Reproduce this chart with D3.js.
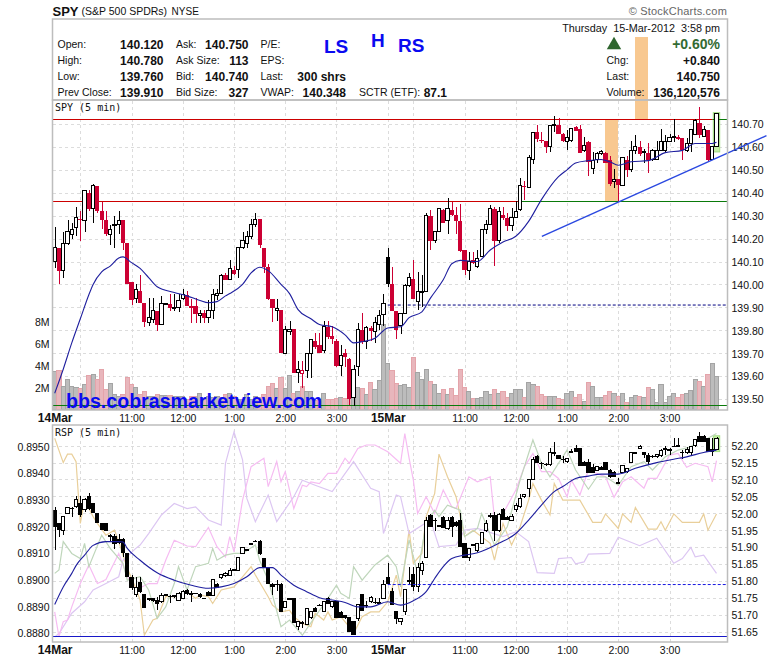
<!DOCTYPE html>
<html>
<head>
<meta charset="utf-8">
<script src="https://cdnjs.cloudflare.com/ajax/libs/d3/7.8.5/d3.min.js"></script>
<style>
  html, body { margin: 0; padding: 0; background: #fff; }
  svg { display: block; font-family: "Liberation Sans", Arial, sans-serif; }
  .grid .tick line { stroke: #dcdcdc; stroke-dasharray: 3 3; shape-rendering: crispEdges; }
  .grid .domain { display: none; }
  .grid text { fill: #111; font-size: 10.5px; }
</style>
</head>
<body>
<div id="chart"></div>
<script>
// [open, high, low, close] per 5 min bar, 14 Mar 9:30 to 15 Mar 3:55
const spyBars = [
  [140.10,140.25,140.07,140.16],[140.16,140.16,140.00,140.06],[140.06,140.23,140.03,140.18],[140.18,140.28,140.17,140.23],
  [140.22,140.27,140.20,140.24],[140.25,140.34,140.21,140.29],[140.285,140.32,140.19,140.28],[140.28,140.41,140.23,140.41],
  [140.40,140.41,140.32,140.33],[140.33,140.44,140.27,140.43],[140.43,140.43,140.31,140.32],[140.32,140.36,140.24,140.28],
  [140.28,140.32,140.21,140.22],[140.22,140.26,140.17,140.24],[140.255,140.30,140.16,140.26],[140.26,140.32,140.22,140.28],
  [140.28,140.28,140.15,140.18],[140.18,140.18,140.00,140.00],[140.01,140.01,139.91,139.93],[139.94,140.00,139.92,139.98],
  [139.97,140.04,139.92,139.92],[139.92,139.92,139.815,139.835],[139.835,139.94,139.82,139.855],[139.845,139.94,139.83,139.885],
  [139.885,139.885,139.795,139.825],[139.825,139.95,139.825,139.915],[139.915,139.92,139.91,139.915],[139.915,139.96,139.885,139.895],
  [139.895,139.96,139.885,139.90],[139.90,139.96,139.88,139.93],[139.94,139.98,139.93,139.955],[139.955,139.97,139.905,139.905],
  [139.905,139.935,139.83,139.895],[139.905,139.94,139.83,139.87],[139.865,139.89,139.83,139.875],[139.875,139.89,139.83,139.855],
  [139.855,139.93,139.83,139.885],[139.885,139.98,139.85,139.955],[139.95,139.98,139.93,139.96],[139.96,140.045,139.96,140.04],
  [140.04,140.05,140.02,140.02],[140.02,140.105,140.02,140.07],[140.065,140.08,140.04,140.045],[140.065,140.16,140.03,140.16],
  [140.16,140.23,140.155,140.19],[140.18,140.235,140.16,140.21],[140.21,140.285,140.20,140.26],[140.26,140.31,140.25,140.285],
  [140.285,140.285,140.16,140.17],[140.16,140.16,140.05,140.075],[140.075,140.09,139.93,139.935],[139.935,139.935,139.835,139.895],
  [139.885,139.935,139.84,139.895],[139.89,139.89,139.70,139.70],[139.70,139.82,139.70,139.805],[139.795,139.84,139.78,139.805],
  [139.805,139.805,139.615,139.615],[139.615,139.665,139.57,139.63],[139.61,139.665,139.55,139.625],[139.625,139.70,139.59,139.70],
  [139.70,139.76,139.59,139.76],[139.755,139.79,139.72,139.725],[139.735,139.79,139.70,139.70],[139.71,139.84,139.70,139.815],
  [139.815,139.84,139.76,139.77],[139.775,139.82,139.74,139.76],[139.755,139.76,139.64,139.645],[139.645,139.735,139.60,139.69],
  [139.70,139.72,139.64,139.685],[139.675,139.68,139.475,139.50],[139.505,139.65,139.47,139.63],[139.64,139.83,139.60,139.805],
  [139.80,139.875,139.74,139.75],[139.75,139.82,139.72,139.81],[139.81,139.82,139.755,139.795],[139.795,139.86,139.745,139.835],
  [139.825,139.89,139.80,139.865],[139.87,139.96,139.82,139.915],[140.12,140.16,139.99,140.00],[140.00,140.075,139.885,139.885],
  [139.885,139.885,139.76,139.80],[139.82,139.875,139.785,139.875],[139.875,140.00,139.875,139.995],[139.995,140.05,139.99,140.03],
  [140.025,140.105,139.935,139.935],[139.925,140.055,139.89,139.97],[139.965,140.04,139.90,139.97],[139.97,140.31,139.97,140.30],
  [140.30,140.325,140.15,140.19],[140.19,140.23,140.18,140.23],[140.23,140.33,140.23,140.33],[140.325,140.33,140.27,140.27],
  [140.28,140.375,140.22,140.33],[140.325,140.36,140.30,140.305],[140.305,140.34,140.22,140.275],[140.275,140.35,140.14,140.145],
  [140.15,140.15,140.04,140.065],[140.06,140.14,140.02,140.10],[140.105,140.14,140.09,140.095],[140.08,140.15,140.07,140.115],
  [140.12,140.24,140.12,140.24],[140.24,140.28,140.22,140.26],[140.26,140.345,140.26,140.33],[140.33,140.34,140.08,140.19],
  [140.19,140.34,140.18,140.32],[140.305,140.34,140.28,140.29],[140.29,140.31,140.235,140.255],[140.255,140.335,140.235,140.29],
  [140.29,140.365,140.29,140.32],[140.325,140.465,140.32,140.43],[140.43,140.45,140.37,140.425],[140.425,140.565,140.425,140.555],
  [140.545,140.665,140.525,140.665],[140.665,140.695,140.62,140.635],[140.63,140.665,140.615,140.625],[140.625,140.625,140.575,140.60],
  [140.60,140.695,140.58,140.695],[140.695,140.735,140.665,140.70],[140.695,140.725,140.655,140.655],[140.655,140.66,140.62,140.625],
  [140.625,140.675,140.585,140.64],[140.63,140.68,140.62,140.68],[140.685,140.69,140.67,140.67],[140.68,140.695,140.575,140.575],
  [140.585,140.645,140.58,140.605],[140.62,140.625,140.475,140.535],[140.505,140.58,140.48,140.54],[140.545,140.58,140.53,140.57],
  [140.57,140.585,140.565,140.58],[140.575,140.58,140.53,140.53],[140.545,140.56,140.43,140.44],[140.45,140.505,140.42,140.46],
  [140.46,140.46,140.36,140.435],[140.43,140.555,140.43,140.555],[140.545,140.56,140.47,140.50],[140.50,140.625,140.49,140.585],
  [140.585,140.65,140.57,140.60],[140.60,140.625,140.56,140.57],[140.575,140.59,140.53,140.58],[140.575,140.615,140.485,140.545],
  [140.545,140.59,140.54,140.585],[140.545,140.625,140.545,140.585],[140.585,140.68,140.585,140.625],[140.585,140.65,140.58,140.625],
  [140.625,140.655,140.62,140.64],[140.64,140.72,140.62,140.645],[140.645,140.65,140.63,140.635],[140.64,140.64,140.545,140.585],
  [140.585,140.64,140.58,140.615],[140.615,140.68,140.58,140.675],[140.655,140.72,140.655,140.715],[140.705,140.775,140.64,140.65],
  [140.645,140.69,140.645,140.675],[140.675,140.675,140.54,140.545],[140.545,140.60,140.545,140.60],[140.60,140.75,140.60,140.745]
];

const rspBars = [
  [52.01,52.02,51.89,51.96],[51.97,51.97,51.93,51.95],[51.95,51.99,51.935,51.99],[52.00,52.02,52.00,52.017],
  [52.017,52.02,51.99,52.015],[52.02,52.05,52.015,52.04],[52.03,52.05,51.99,51.995],[52.01,52.045,52.005,52.04],
  [52.05,52.06,52.01,52.012],[52.03,52.03,52.00,52.00],[52.00,52.00,51.97,51.97],[51.97,51.97,51.95,51.95],
  [51.97,51.97,51.948,51.948],[51.935,51.94,51.915,51.93],[51.932,51.94,51.895,51.909],[51.923,51.94,51.91,51.913],
  [51.923,51.926,51.87,51.881],[51.881,51.881,51.81,51.81],[51.81,51.817,51.773,51.778],[51.761,51.812,51.753,51.78],
  [51.797,51.812,51.765,51.768],[51.761,51.761,51.72,51.72],[51.748,51.75,51.74,51.743],[51.748,51.75,51.738,51.74],
  [51.743,51.753,51.713,51.73],[51.738,51.763,51.733,51.758],[51.758,51.76,51.757,51.759],[51.755,51.758,51.733,51.753],
  [51.755,51.757,51.75,51.756],[51.743,51.768,51.743,51.763],[51.748,51.773,51.745,51.768],[51.773,51.775,51.758,51.76],
  [51.763,51.771,51.736,51.758],[51.763,51.765,51.76,51.762],[51.761,51.763,51.75,51.751],[51.749,51.75,51.746,51.747],
  [51.768,51.77,51.755,51.756],[51.758,51.804,51.755,51.804],[51.792,51.793,51.78,51.78],[51.809,51.82,51.805,51.819],
  [51.815,51.825,51.81,51.822],[51.817,51.839,51.815,51.832],[51.832,51.834,51.83,51.833],[51.832,51.869,51.83,51.869],
  [51.881,51.90,51.88,51.899],[51.893,51.895,51.892,51.894],[51.91,51.912,51.909,51.911],[51.919,51.92,51.918,51.918],
  [51.919,51.92,51.875,51.878],[51.869,51.869,51.84,51.842],[51.842,51.842,51.79,51.79],[51.792,51.793,51.758,51.782],
  [51.79,51.802,51.771,51.788],[51.792,51.793,51.708,51.708],[51.72,51.738,51.72,51.738],[51.748,51.749,51.747,51.748],
  [51.748,51.748,51.674,51.674],[51.664,51.679,51.655,51.679],[51.679,51.68,51.659,51.672],[51.672,51.718,51.668,51.718],
  [51.69,51.712,51.688,51.708],[51.721,51.722,51.708,51.708],[51.729,51.73,51.728,51.728],[51.71,51.74,51.71,51.738],
  [51.748,51.753,51.73,51.731],[51.723,51.74,51.72,51.738],[51.74,51.74,51.689,51.689],[51.708,51.71,51.689,51.689],
  [51.70,51.70,51.688,51.689],[51.692,51.692,51.649,51.649],[51.681,51.681,51.64,51.64],[51.689,51.731,51.68,51.731],
  [51.76,51.76,51.711,51.711],[51.728,51.74,51.72,51.727],[51.738,51.755,51.735,51.751],[51.738,51.75,51.73,51.737],
  [51.735,51.75,51.73,51.736],[51.748,51.802,51.745,51.79],[51.812,51.852,51.79,51.79],[51.77,51.78,51.728,51.728],
  [51.71,51.71,51.672,51.687],[51.679,51.69,51.67,51.689],[51.71,51.773,51.70,51.773],[51.798,51.842,51.79,51.80],
  [51.82,51.842,51.77,51.782],[51.782,51.852,51.768,51.84],[51.83,51.86,51.817,51.852],[51.869,51.99,51.869,51.98],
  [51.995,51.997,51.96,51.96],[51.98,51.985,51.948,51.978],[51.965,51.966,51.96,51.96],[51.99,51.992,51.955,51.955],
  [51.955,51.99,51.95,51.98],[51.99,51.992,51.93,51.96],[51.975,51.978,51.958,51.962],[51.98,52.00,51.90,51.901],
  [51.911,51.911,51.868,51.868],[51.869,51.896,51.86,51.896],[51.905,51.908,51.904,51.907],[51.889,51.911,51.885,51.911],
  [51.911,51.943,51.908,51.943],[51.948,51.98,51.945,51.97],[51.993,52.00,51.985,51.994],[51.995,52.005,51.919,51.948],
  [51.948,52.00,51.945,51.995],[52.014,52.016,51.98,51.98],[51.99,51.992,51.98,51.98],[51.98,51.998,51.978,51.99],
  [52.01,52.03,52.005,52.022],[52.019,52.057,52.015,52.044],[52.049,52.058,52.045,52.057],[52.072,52.10,52.049,52.10],
  [52.10,52.167,52.10,52.16],[52.17,52.172,52.15,52.15],[52.15,52.151,52.131,52.146],[52.146,52.148,52.14,52.145],
  [52.143,52.192,52.14,52.18],[52.179,52.21,52.17,52.18],[52.172,52.173,52.16,52.16],[52.16,52.17,52.15,52.158],
  [52.153,52.165,52.15,52.162],[52.182,52.19,52.178,52.183],[52.192,52.202,52.18,52.18],[52.192,52.192,52.141,52.141],
  [52.153,52.155,52.141,52.141],[52.151,52.16,52.12,52.12],[52.138,52.145,52.12,52.12],[52.128,52.14,52.125,52.138],
  [52.138,52.14,52.128,52.128],[52.151,52.152,52.128,52.128],[52.128,52.13,52.105,52.108],[52.123,52.125,52.108,52.108],
  [52.09,52.103,52.088,52.091],[52.12,52.141,52.12,52.141],[52.123,52.135,52.12,52.133],[52.15,52.18,52.15,52.179],
  [52.18,52.182,52.174,52.174],[52.192,52.202,52.19,52.199],[52.18,52.182,52.165,52.172],[52.172,52.177,52.143,52.153],
  [52.169,52.172,52.165,52.168],[52.169,52.175,52.165,52.173],[52.17,52.19,52.168,52.185],[52.191,52.20,52.172,52.192],
  [52.187,52.192,52.172,52.188],[52.20,52.222,52.195,52.198],[52.202,52.222,52.195,52.195],[52.18,52.187,52.16,52.179],
  [52.18,52.195,52.175,52.189],[52.18,52.20,52.17,52.197],[52.20,52.22,52.195,52.217],[52.23,52.24,52.21,52.212],
  [52.23,52.232,52.21,52.212],[52.222,52.224,52.18,52.182],[52.189,52.222,52.17,52.182],[52.19,52.225,52.19,52.222]
];

// millions of shares
const spyVolume = [
  3.5,3.6,2.1,2.8,2.1,2.0,1.9,2.3,3.1,3.2,2.8,3.7,1.8,2.4,1.4,1.2,1.4,2.9,2.3,2.0,
  1.4,1.65,1.15,1.15,1.4,1.3,1.3,1.3,1.2,1.2,1.2,0.9,1.2,1.2,1.5,1.0,1.2,1.1,1.2,1.1,
  1.4,1.5,1.2,0.9,0.9,1.4,0.9,1.2,1.1,1.4,2.1,2.4,1.9,2.9,1.9,3.1,1.5,1.7,2.1,1.7,
  1.7,0.8,0.9,1.5,0.9,0.9,1.0,1.1,1.0,1.1,1.9,2.0,1.9,1.4,2.5,1.8,2.7,7.8,4.2,3.6,
  2.35,2.25,2.3,2.0,4.8,3.4,2.75,3.7,2.6,2.3,1.5,1.8,1.4,1.9,1.3,3.7,2.0,1.7,1.0,1.0,
  1.1,1.65,1.4,1.8,1.5,1.65,1.1,1.5,1.8,1.8,1.1,2.45,2.3,2.1,1.4,1.15,1.15,1.15,1.0,0.9,
  1.5,1.65,1.1,1.4,0.7,2.45,2.1,1.1,1.1,1.3,1.65,1.45,1.2,1.5,0.6,1.1,1.3,1.15,1.1,2.0,
  1.8,0.6,2.3,0.6,1.15,1.45,1.1,1.4,1.5,1.75,2.8,2.55,2.1,3.2,4.2,3.0
];

// [bar, value]
const spyMa = [
  [0,139.525],[2,139.63],[4,139.745],[6,139.85],[8,139.955],[9,140.00],[11,140.055],[13,140.08],[15,140.115],[16,140.12],
  [18,140.095],[20,140.07],[22,140.03],[24,139.99],[28,139.965],[31,139.95],[34,139.93],[36,139.92],[38,139.925],[40,139.95],
  [41,139.96],[44,140.00],[46,140.05],[48,140.075],[50,140.06],[53,140.00],[55,139.96],[57,139.89],[60,139.85],[62,139.825],
  [65,139.815],[68,139.78],[70,139.745],[72,139.75],[75,139.765],[78,139.81],[81,139.815],[83,139.855],[86,139.88],[88,139.94],
  [91,140.02],[93,140.09],[95,140.105],[99,140.10],[102,140.15],[105,140.185],[108,140.21],[111,140.275],[114,140.37],[118,140.47],
  [120,140.50],[122,140.53],[125,140.54],[128,140.545],[130,140.535],[132,140.52],[135,140.535],[139,140.54],[143,140.575],[147,140.585],
  [150,140.615],[154,140.615],[155,140.62]
];

const rspMa = [
  [0,51.73],[2,51.782],[4,51.822],[5,51.845],[7,51.876],[9,51.905],[12,51.916],[15,51.916],[16,51.915],[17,51.896],
  [20,51.861],[24,51.824],[28,51.802],[32,51.787],[36,51.778],[39,51.782],[42,51.792],[45,51.812],[48,51.839],[51,51.839],
  [53,51.817],[56,51.787],[59,51.768],[62,51.75],[65,51.743],[68,51.736],[71,51.723],[74,51.723],[78,51.738],[81,51.728],
  [84,51.741],[87,51.768],[89,51.807],[91,51.842],[93,51.866],[96,51.876],[99,51.883],[104,51.911],[108,51.94],[111,51.98],
  [114,52.024],[117,52.064],[119,52.079],[122,52.103],[125,52.11],[128,52.116],[132,52.116],[136,52.133],[141,52.15],[145,52.16],
  [148,52.167],[152,52.18],[155,52.187]
];

const tanLine = [
  [0,52.222],[2,52.15],[3,52.175],[4,52.175],[5,52.153],[6,51.97],[7,52.039],[9,51.99],[10,51.97],[12,51.935],[14,51.95],[15,51.916],
  [17,51.837],[19,51.778],[20,51.743],[21,51.639],[23,51.684],[24,51.689],[26,51.753],[29,51.753],[31,51.768],[33,51.748],[34,51.758],
  [36,51.753],[37,51.733],[39,51.773],[42,51.782],[44,51.812],[46,51.842],[47,51.817],[50,51.753],[51,51.728],[53,51.708],[55,51.713],
  [56,51.694],[58,51.674],[60,51.664],[61,51.704],[63,51.684],[64,51.708],[65,51.684],[67,51.694],[69,51.664],[70,51.644],[72,51.694],
  [74,51.708],[76,51.708],[78,51.738],[80,51.817],[81,51.753],[83,51.95],[84,51.852],[86,51.881],[87,51.99],[89,52.059],[90,52.175],
  [92,52.108],[94,52.049],[96,51.931],[98,51.95],[102,51.911],[103,51.861],[105,51.97],[107,51.906],[109,51.96],[111,52.039],[112,52.088],
  [114,52.039],[116,51.995],[117,52.088],[119,52.039],[123,52.039],[126,51.973],[128,51.973],[129,51.998],[132,51.955],[133,51.998],
  [135,51.973],[136,52.017],[139,51.953],[141,51.953],[142,51.975],[143,51.95],[145,51.998],[147,51.973],[151,51.973],[152,51.998],
  [153,51.95],[155,51.998]
];

const pinkLine = [
  [0,51.708],[1,51.634],[2,51.679],[3,51.684],[4,51.723],[6,51.792],[8,51.847],[10,51.792],[12,51.804],[15,51.881],[17,51.812],[19,51.773],
  [22,51.792],[24,51.792],[26,51.861],[28,51.92],[31,51.903],[33,51.901],[36,51.958],[38,51.901],[40,51.871],[41,51.931],[42,51.886],
  [44,52.039],[46,52.138],[49,52.163],[50,52.079],[52,52.153],[53,52.093],[54,52.123],[56,52.014],[58,52.083],[59,52.079],[60,52.093],
  [62,52.088],[64,52.118],[66,52.118],[68,52.163],[69,52.148],[71,52.192],[73,52.202],[75,52.202],[78,52.182],[81,52.148],[82,52.236],
  [83,52.163],[84,52.098],[85,51.999],[87,52.049],[89,51.999],[91,52.069],[93,52.019],[94,52.014],[97,52.108],[99,52.093],[102,52.108],
  [103,51.985],[105,51.999],[108,52.069],[110,52.138],[112,52.177],[114,52.123],[116,52.123],[118,52.103],[120,52.049],[121,52.098],
  [123,52.054],[125,52.128],[128,52.113],[129,52.108],[131,52.047],[133,52.093],[135,52.108],[138,52.074],[139,52.103],[141,52.103],
  [144,52.172],[146,52.177],[148,52.136],[150,52.148],[153,52.138],[154,52.093],[155,52.156]
];

const lavenderLine = [
  [0,51.634],[1,51.644],[4,51.704],[7,51.738],[9,51.773],[12,51.792],[15,51.812],[16,51.861],[19,51.896],[20,51.906],[22,51.94],[25,51.995],
  [28,52.029],[31,52.014],[33,52.019],[36,51.98],[39,51.965],[40,52.148],[42,52.241],[44,52.158],[45,52.044],[47,51.975],[50,52.054],
  [52,51.975],[56,52.049],[58,52.098],[61,52.083],[65,52.064],[70,52.153],[74,52.074],[76,52.064],[77,51.94],[80,52.054],[81,52.049],
  [83,51.94],[88,51.98],[90,51.901],[94,51.906],[96,51.95],[99,51.955],[105,51.931],[108,51.945],[111,51.916],[113,51.824],[117,51.822],
  [118,51.866],[121,51.869],[122,51.85],[124,51.856],[125,51.879],[130,51.881],[132,51.929],[137,51.904],[141,51.926],[145,51.852],
  [147,51.866],[149,51.899],[150,51.871],[152,51.876],[155,51.822]
];

const sageLine = [
  [0,51.822],[1,51.832],[2,51.916],[4,51.881],[6,51.866],[7,51.911],[8,51.842],[11,51.935],[13,51.896],[16,51.852],[17,51.802],[20,51.812],
  [22,51.773],[24,51.689],[26,51.723],[28,51.792],[29,51.842],[31,51.773],[33,51.842],[36,51.852],[37,51.896],[38,51.861],[40,51.876],
  [42,51.881],[44,51.881],[47,51.906],[48,51.861],[50,51.802],[51,51.758],[53,51.664],[55,51.684],[58,51.639],[61,51.694],[64,51.748],
  [66,51.787],[67,51.763],[69,51.748],[70,51.842],[72,51.802],[75,51.847],[78,51.876],[80,51.842],[81,51.782],[83,51.921],[85,51.822],
  [87,51.97],[89,52.009],[90,51.99],[92,52.024],[95,52.009],[96,51.931],[99,51.955],[100,51.999],[103,51.906],[106,51.96],[109,52.098],
  [112,52.217],[114,52.148],[116,52.108],[118,52.148],[120,52.187],[122,52.128],[125,52.071],[127,52.108],[129,52.108],[132,52.083],
  [135,52.138],[138,52.153],[140,52.128],[143,52.167],[146,52.187],[149,52.197],[151,52.217],[153,52.222],[155,52.236]
];

const priceTicks = [140.7,140.6,140.5,140.4,140.3,140.2,140.1,140.0,139.9,139.8,139.7,139.6,139.5];
const rspTicks = [52.2,52.15,52.1,52.05,52.0,51.95,51.9,51.85,51.8,51.75,51.7,51.65];
const ratioTicks = [0.895,0.894,0.893,0.892,0.891,0.89,0.889,0.888];
const volumeTicks = [2,4,6,8];
const gridBars = [6,18,30,42,54,66,78,84,96,108,120,132,144];
const timeBars = [0,18,30,42,54,66,78,96,108,120,132,144];
const timeLabels = ["14Mar","11:00","12:00","1:00","2:00","3:00","15Mar","11:00","12:00","1:00","2:00","3:00"];

// level, colour switches from red to green at switchBar
const spyLevels = [
  { value: 140.72, switchBar: 154 },
  { value: 140.363, switchBar: 109 },
  { value: 139.472, switchBar: 0 },
];
const prevClose = 139.91;
const rspPrevClose = 51.789;
const rspLow = 51.637;
const trendBars = [114.1, 166.7];
const trendValues = [140.21, 140.649];

const quoteCol1 = ["Open:", "High:", "Low:", "Prev Close:"];
const quoteVal1 = ["140.120", "140.780", "139.760", "139.910"];
const quoteCol2 = ["Ask:", "Ask Size:", "Bid:", "Bid Size:"];
const quoteVal2 = ["140.750", "113", "140.740", "327"];
const quoteCol3 = ["P/E:", "EPS:", "Last:", "VWAP:"];
const quoteVal3 = ["", "", "300 shrs", "140.348"];
const quoteCol4 = ["", "Chg:", "Last:", "Volume:"];
const quoteVal4 = ["+0.60%", "+0.840", "140.750", "136,120,576"];
const rowY = [44.5, 60.5, 76.5, 92.5];

const WIDTH = 780, HEIGHT = 659;
const LEFT = 52.5, RIGHT = 727.5;
const BLUE = "#0a0af0", NAVY = "#1e1e9e", RED = "#cc0033", GREEN = "#0a7a0a";

const svg = d3.select("#chart").append("svg").attr("width", WIDTH).attr("height", HEIGHT);

const x = d3.scaleLinear().domain([0, 155]).range([54.7, 716.5]);
const priceY = d3.scaleLinear().domain([139.5, 140.7]).range([399, 124]);
const volumeY = d3.scaleLinear().domain([0, 8]).range([409.5, 322.5]);
const rspY = d3.scaleLinear().domain([51.65, 52.2]).range([631.5, 445.7]);
const ratioY = d3.scaleLinear().domain([0.888, 0.895]).range([633.3, 446.7]);

svg.append("defs").append("clipPath").attr("id", "lower-clip")
  .append("rect").attr("x", LEFT).attr("y", 425).attr("width", RIGHT - LEFT).attr("height", 217);

function drawYGrid(y, ticks, fmt) {
  const axis = d3.axisRight(y).tickValues(ticks).tickFormat(d3.format(fmt)).tickSize(LEFT - RIGHT);
  const g = svg.append("g").attr("class", "grid").attr("transform", `translate(${RIGHT},0)`).call(axis);
  g.selectAll("text").attr("x", 4).attr("y", 0.5);
}

function drawXGrid(top, bottom) {
  svg.append("g").attr("class", "grid").attr("transform", `translate(0,${bottom})`)
    .call(d3.axisBottom(x).tickValues(gridBars).tickFormat("").tickSize(top - bottom));
}

function drawTimeAxis(yPos) {
  const g = svg.append("g").attr("class", "grid").attr("transform", `translate(0,${yPos})`)
    .call(d3.axisBottom(x).tickValues(timeBars).tickFormat((d, i) => timeLabels[i]).tickSize(0).tickPadding(0));
  g.selectAll("text")
    .attr("dy", "0.36em").attr("y", 0)
    .style("font-weight", (d, i) => (timeLabels[i].includes("Mar") ? "bold" : "normal"))
    .style("font-size", (d, i) => (timeLabels[i].includes("Mar") ? "12px" : "10.5px"));
}

function drawCandles(bars, y, colour) {
  const g = svg.append("g").attr("shape-rendering", "crispEdges");
  const candle = g.selectAll("g").data(bars).join("g");
  candle.append("line")
    .attr("x1", (d, i) => Math.round(x(i)) + 0.5)
    .attr("x2", (d, i) => Math.round(x(i)) + 0.5)
    .attr("y1", (d) => y(d[1]))
    .attr("y2", (d) => y(d[2]))
    .attr("stroke", (d, i) => colour(d, i));
  candle.append("rect")
    .attr("x", (d, i) => x(i) + (d[3] >= d[0] ? -1.6 : -2.1))
    .attr("width", (d) => (d[3] >= d[0] ? 3.2 : 4.2))
    .attr("y", (d) => y(Math.max(d[0], d[3])))
    .attr("height", (d) => Math.max(1, y(Math.min(d[0], d[3])) - y(Math.max(d[0], d[3]))))
    .attr("fill", (d, i) => (d[3] >= d[0] ? "#fff" : colour(d, i)))
    .attr("stroke", (d, i) => (d[3] >= d[0] ? colour(d, i) : "none"))
    .attr("stroke-width", 1);
}

function drawLine(points, y, colour, width, curve) {
  const line = d3.line().x((d) => x(d[0])).y((d) => y(d[1])).curve(curve || d3.curveLinear);
  svg.append("path").datum(points)
    .attr("clip-path", "url(#lower-clip)")
    .attr("fill", "none").attr("stroke", colour).attr("stroke-width", width).attr("d", line);
}

const spyColour = (d, i) => (i > 0 && d[3] < spyBars[i - 1][3] ? RED : "#000");

// ---- upper panel ----
drawYGrid(priceY, priceTicks, ".2f");
drawXGrid(100, 410);

// hand drawn orange bands
svg.append("rect").attr("x", 635).attr("y", 37).attr("width", 13).attr("height", priceY(140.72) - 37).attr("fill", "#f8c890");
svg.append("rect").attr("x", 605).attr("y", priceY(140.72)).attr("width", 13)
  .attr("height", priceY(140.363) - priceY(140.72)).attr("fill", "#f8c890");

svg.append("g").attr("shape-rendering", "crispEdges").selectAll("rect").data(spyVolume).join("rect")
  .attr("x", (d, i) => x(i) - 2.1)
  .attr("width", 4.2)
  .attr("y", (d) => volumeY(d))
  .attr("height", (d) => volumeY(0) - volumeY(d))
  .attr("fill", (d, i) => (spyColour(spyBars[i], i) === RED ? "#e8b6bc" : "#bcbcbc"))
  .attr("stroke", (d, i) => (spyColour(spyBars[i], i) === RED ? "#e4a4aa" : "#a4a4a4"));

svg.append("g").call(d3.axisLeft(volumeY).tickValues(volumeTicks).tickFormat((d) => d + "M").tickSize(0).tickPadding(3))
  .attr("transform", `translate(${LEFT},0)`)
  .call((g) => g.select(".domain").remove())
  .call((g) => g.selectAll("text").attr("fill", "#111").style("font-size", "10.5px"));

// highlight on the last bar
const lastBar = spyBars[155];
svg.append("rect").attr("x", x(155) - 3.2).attr("width", 6.4)
  .attr("y", priceY(lastBar[3]) - 1).attr("height", priceY(lastBar[0]) - priceY(lastBar[3]) + 6)
  .attr("fill", "#c4f0a4").attr("stroke", "#a0dc80");

spyLevels.forEach((level) => {
  const yPos = Math.round(priceY(level.value)) + 0.5;
  const split = level.switchBar ? x(level.switchBar) : LEFT;
  svg.append("line").attr("x1", LEFT).attr("x2", split).attr("y1", yPos).attr("y2", yPos).attr("stroke", "#cc0000");
  svg.append("line").attr("x1", split).attr("x2", RIGHT).attr("y1", yPos).attr("y2", yPos).attr("stroke", GREEN);
});
svg.append("line").attr("x1", x(78)).attr("x2", RIGHT).attr("y1", priceY(prevClose)).attr("y2", priceY(prevClose))
  .attr("stroke", "#000080").attr("stroke-dasharray", "3 2");

drawCandles(spyBars, priceY, spyColour);
svg.append("path").datum(spyMa).attr("fill", "none").attr("stroke", NAVY).attr("stroke-width", 1.1)
  .attr("d", d3.line().x((d) => x(d[0])).y((d) => priceY(d[1])).curve(d3.curveMonotoneX));

// trend line sketched over the chart
svg.append("line")
  .attr("x1", x(trendBars[0])).attr("x2", x(trendBars[1]))
  .attr("y1", priceY(trendValues[0])).attr("y2", priceY(trendValues[1]))
  .attr("stroke", "#2a48e0").attr("stroke-width", 1.4);

// ---- lower panel ----
drawYGrid(rspY, rspTicks, ".2f");
drawXGrid(425, 642);
svg.append("g").attr("transform", `translate(${LEFT},0)`)
  .call(d3.axisLeft(ratioY).tickValues(ratioTicks).tickFormat(d3.format(".4f")).tickSize(0).tickPadding(3))
  .call((g) => g.select(".domain").remove())
  .call((g) => g.selectAll("text").attr("fill", "#111").style("font-size", "10.5px"));

const lastRsp = rspBars[155];
svg.append("rect").attr("x", x(155) - 3.2).attr("width", 6.4)
  .attr("y", rspY(lastRsp[3]) - 2.5).attr("height", rspY(lastRsp[0]) - rspY(lastRsp[3]) + 5)
  .attr("fill", "#c4f0a4").attr("stroke", "#a0dc80");

drawLine(tanLine, rspY, "#e9cf9a", 1.2);
drawLine(lavenderLine, rspY, "#dcc6f2", 1.2);
drawLine(pinkLine, rspY, "#f6bcf2", 1.2);
drawLine(sageLine, rspY, "#bfd6bb", 1.2);
drawCandles(rspBars, rspY, () => "#000");
drawLine(rspMa, rspY, NAVY, 1.1, d3.curveMonotoneX);

svg.append("line").attr("x1", LEFT).attr("x2", RIGHT).attr("y1", Math.round(rspY(rspLow)) + 0.5).attr("y2", Math.round(rspY(rspLow)) + 0.5)
  .attr("stroke", "#1818c8");
svg.append("line").attr("x1", x(78)).attr("x2", RIGHT).attr("y1", rspY(rspPrevClose)).attr("y2", rspY(rspPrevClose))
  .attr("stroke", "#1818e0").attr("stroke-dasharray", "3 2");

drawTimeAxis(418);
drawTimeAxis(650);

// ---- panel frames ----
[[19, 81], [100, 310], [425, 217]].forEach(([top, h]) => {
  svg.append("rect").attr("x", LEFT).attr("y", top).attr("width", RIGHT - LEFT).attr("height", h)
    .attr("fill", "none").attr("stroke", "#bdbdbd").attr("stroke-width", 1.5);
});

// ---- header text ----
function label(text, xPos, yPos, opts = {}) {
  return svg.append("text").text(text).attr("x", xPos).attr("y", yPos).attr("dy", "0.36em")
    .attr("text-anchor", opts.anchor || "start")
    .attr("fill", opts.fill || "#111")
    .style("font-size", (opts.size || 10.5) + "px")
    .style("font-weight", opts.bold ? "bold" : "normal")
    .style("font-family", opts.font || null)
    .style("letter-spacing", opts.spacing || null);
}

label("SPY", 52.5, 11, { size: 13, bold: true });
label("(S&P 500 SPDRs)", 81.5, 11, { size: 10.5 });
label("NYSE", 171.5, 11, { size: 10, spacing: "0.1px" });
label("\u00a9 StockCharts.com", 727, 11, { size: 11, anchor: "end", fill: "#666", spacing: "0.2px" });
label("Thursday  15-Mar-2012  3:58 pm", 720, 28.5, { size: 10.8, anchor: "end" }).style("white-space", "pre");

const colX = [57.5, 176, 260.5, 606.5];
const valX = [163.5, 248.5, 346, 720];
[[quoteCol1, quoteVal1], [quoteCol2, quoteVal2], [quoteCol3, quoteVal3], [quoteCol4, quoteVal4]].forEach(([names, values], col) => {
  names.forEach((name, row) => {
    if (name) label(name, colX[col], rowY[row]);
    if (values[row] && !(col === 3 && row === 0)) label(values[row], valX[col], rowY[row], { anchor: "end", bold: true, size: 12 });
  });
});
label(quoteVal4[0], 720, 44, { anchor: "end", bold: true, size: 14, fill: "#336b33" });
label("SCTR (ETF):", 359, rowY[3]);
label("87.1", 447, rowY[3], { anchor: "end", bold: true, size: 12 });

svg.append("path").attr("d", d3.symbol(d3.symbolTriangle, 90)()).attr("transform", "translate(614,45)").attr("fill", "#2f662f");

label("LS", 324, 46, { size: 19, bold: true, fill: BLUE });
label("H", 371, 40.5, { size: 19, bold: true, fill: BLUE });
label("RS", 398, 45.5, { size: 19, bold: true, fill: BLUE });

const mono = '"DejaVu Sans Mono", monospace';
label("SPY (5 min)", 55, 107.5, { size: 10, font: mono });
label("RSP (5 min)", 55, 432.5, { size: 10, font: mono });

label("bbs.cobrasmarketview.com", 66, 401, { size: 19.6, bold: true, fill: BLUE });
</script>
</body>
</html>
